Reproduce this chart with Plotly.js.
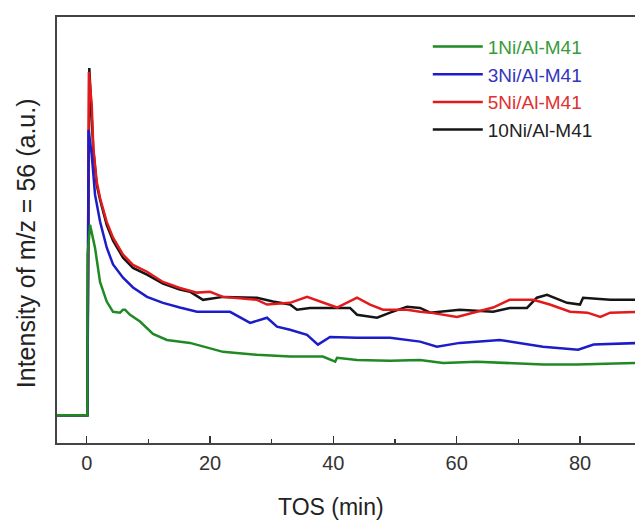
<!DOCTYPE html>
<html>
<head>
<meta charset="utf-8">
<script src="https://cdn.plot.ly/plotly-3.0.1.min.js"></script>
<style>
html, body { margin: 0; padding: 0; overflow: hidden; background: #fff; }
#chart { width: 640px; height: 520px; }
</style>
</head>
<body>
<div id="chart"></div>
<script>
// Series names
const names = ["1Ni/Al-M41", "3Ni/Al-M41", "5Ni/Al-M41", "10Ni/Al-M41"];

// TOS (min) and intensity (a.u.)
const tGreen = [-5, 0.1, 0.15, 0.54, 1.35, 2.16, 3.24, 4.27, 5.4, 5.89, 6.21, 7.02, 8.64, 10.75, 13.0, 15.1, 16.75, 22.1, 27.6, 32.97, 38.3, 40.3, 40.6, 43.84, 49.2, 54.06, 57.8, 63.3, 68.6, 74.0, 79.5, 84.9, 90];
const vGreen = [6.5, 6.5, 44.2, 51.2, 45.8, 37.8, 33.2, 30.8, 30.6, 31.3, 31.3, 30.1, 28.5, 25.6, 24.2, 23.8, 23.5, 21.4, 20.7, 20.3, 20.3, 19.1, 20.0, 19.5, 19.3, 19.5, 18.8, 19.1, 18.8, 18.4, 18.4, 18.6, 18.8];

const tBlue = [-5, 0.1, 0.3, 0.81, 1.35, 2.16, 3.24, 4.27, 5.89, 7.51, 9.78, 12.37, 15.1, 17.89, 19.5, 23.24, 26.5, 29.24, 30.86, 32.97, 35.73, 37.5, 39.46, 43.84, 49.2, 54.06, 56.8, 60.5, 67.0, 71.4, 74.0, 79.7, 82.2, 90];
const vBlue = [6.5, 6.5, 73.5, 67.7, 58.3, 52.0, 45.9, 41.9, 38.8, 36.5, 34.3, 32.9, 31.8, 30.8, 30.8, 30.8, 28.2, 29.4, 27.3, 26.6, 25.4, 23.1, 24.9, 24.7, 24.7, 23.8, 22.6, 23.5, 24.2, 23.1, 22.6, 21.9, 23.1, 23.5];

const tRed = [-5, 0.1, 0.35, 0.81, 1.07, 1.62, 2.16, 3.24, 4.27, 5.89, 7.51, 9.78, 12.37, 15.1, 17.89, 20.0, 22.1, 27.6, 29.24, 32.97, 35.73, 38.3, 40.6, 43.84, 45.95, 48.05, 51.95, 54.06, 55.7, 60.05, 63.3, 65.9, 68.6, 72.4, 75.1, 78.4, 81.2, 83.3, 84.9, 90];
const vRed = [6.5, 6.5, 87.1, 79.4, 69.3, 61.3, 57.5, 51.9, 48.2, 44.2, 41.8, 40.2, 37.8, 36.4, 35.3, 35.5, 34.3, 33.6, 32.5, 32.9, 34.3, 32.9, 31.8, 34.1, 32.5, 31.3, 31.3, 30.8, 30.6, 29.6, 30.8, 31.8, 33.6, 33.6, 32.5, 30.8, 30.6, 29.6, 30.6, 30.8];

const tBlack = [-5, 0.1, 0.42, 1.07, 1.62, 2.16, 3.24, 4.27, 5.89, 7.51, 9.78, 12.37, 15.1, 16.75, 18.86, 22.1, 27.6, 30.2, 32.97, 34.1, 36.2, 39.46, 42.7, 43.84, 47.08, 49.2, 51.95, 54.06, 55.7, 60.5, 65.9, 68.6, 71.4, 73.0, 74.65, 77.9, 80.0, 80.5, 84.9, 90];
const vBlack = [6.5, 6.5, 88.0, 68.8, 60.6, 57.1, 51.2, 47.5, 43.5, 41.1, 39.5, 37.4, 36.0, 35.5, 33.6, 34.3, 34.1, 33.2, 32.5, 31.3, 31.7, 31.7, 31.7, 30.1, 29.4, 30.6, 32.0, 31.7, 30.6, 31.3, 30.8, 31.7, 31.7, 34.1, 34.8, 32.9, 32.5, 34.1, 33.6, 33.6];

// x-axis ticks
const xTickVals = [0, 20, 40, 60, 80];
const xTickText = ["0", "20", "40", "60", "80"];

// Axis titles
const xTitle = "TOS (min)";
const yTitle = "Intensity of m/z = 56 (a.u.)";

const lineColors = ["#1f8a24", "#1c1cc8", "#e31a1c", "#151515"];
const textColors = ["#3a9a3a", "#3434c0", "#e03030", "#222222"];

function tr(x, y, i) {
  return {
    x: x, y: y, type: "scatter", mode: "lines",
    name: '<span style="color:' + textColors[i] + '">' + names[i] + '</span>',
    line: { color: lineColors[i], width: 2.5 }
  };
}

const data = [
  tr(tBlack, vBlack, 3),
  tr(tRed, vRed, 2),
  tr(tBlue, vBlue, 1),
  tr(tGreen, vGreen, 0)
];

const font = "Liberation Sans, Arial, sans-serif";

const layout = {
  width: 640, height: 520,
  margin: { l: 57, r: 0, t: 17, b: 77 },
  paper_bgcolor: "#ffffff", plot_bgcolor: "#ffffff",
  font: { family: font, color: "#222" },
  showlegend: true,
  legend: {
    x: 0.636, y: 0.975, xanchor: "left", yanchor: "top",
    traceorder: "reversed",
    bgcolor: "rgba(0,0,0,0)",
    font: { family: font, size: 19 },
    itemwidth: 50
  },
  xaxis: {
    range: [-4.82, 89.73],
    tickmode: "array", tickvals: xTickVals, ticktext: xTickText,
    ticks: "inside", ticklen: 7, tickwidth: 1.3, tickcolor: "#333",
    minor: { dtick: 10, tick0: 0, ticks: "inside", ticklen: 4, tickwidth: 1.3, tickcolor: "#333" },
    showline: true, linecolor: "#444", linewidth: 1.6, mirror: true,
    showgrid: false, zeroline: false,
    tickfont: { family: font, size: 20, color: "#333" },
    ticklabelstandoff: 1
  },
  yaxis: {
    range: [0, 100],
    showticklabels: false, ticks: "",
    showline: true, linecolor: "#444", linewidth: 1.6, mirror: true,
    showgrid: false, zeroline: false
  },
  annotations: [
    { text: xTitle, xref: "paper", yref: "paper", x: 0.47, y: -0.150,
      xanchor: "center", yanchor: "middle", showarrow: false,
      font: { family: font, size: 23, color: "#222" } },
    { text: yTitle, xref: "paper", yref: "paper", x: -0.0532, y: 0.469,
      xanchor: "center", yanchor: "middle", showarrow: false, textangle: -90,
      font: { family: font, size: 25, color: "#222" } }
  ]
};

Plotly.newPlot("chart", data, layout, { displayModeBar: false, staticPlot: true });
</script>
</body>
</html>
